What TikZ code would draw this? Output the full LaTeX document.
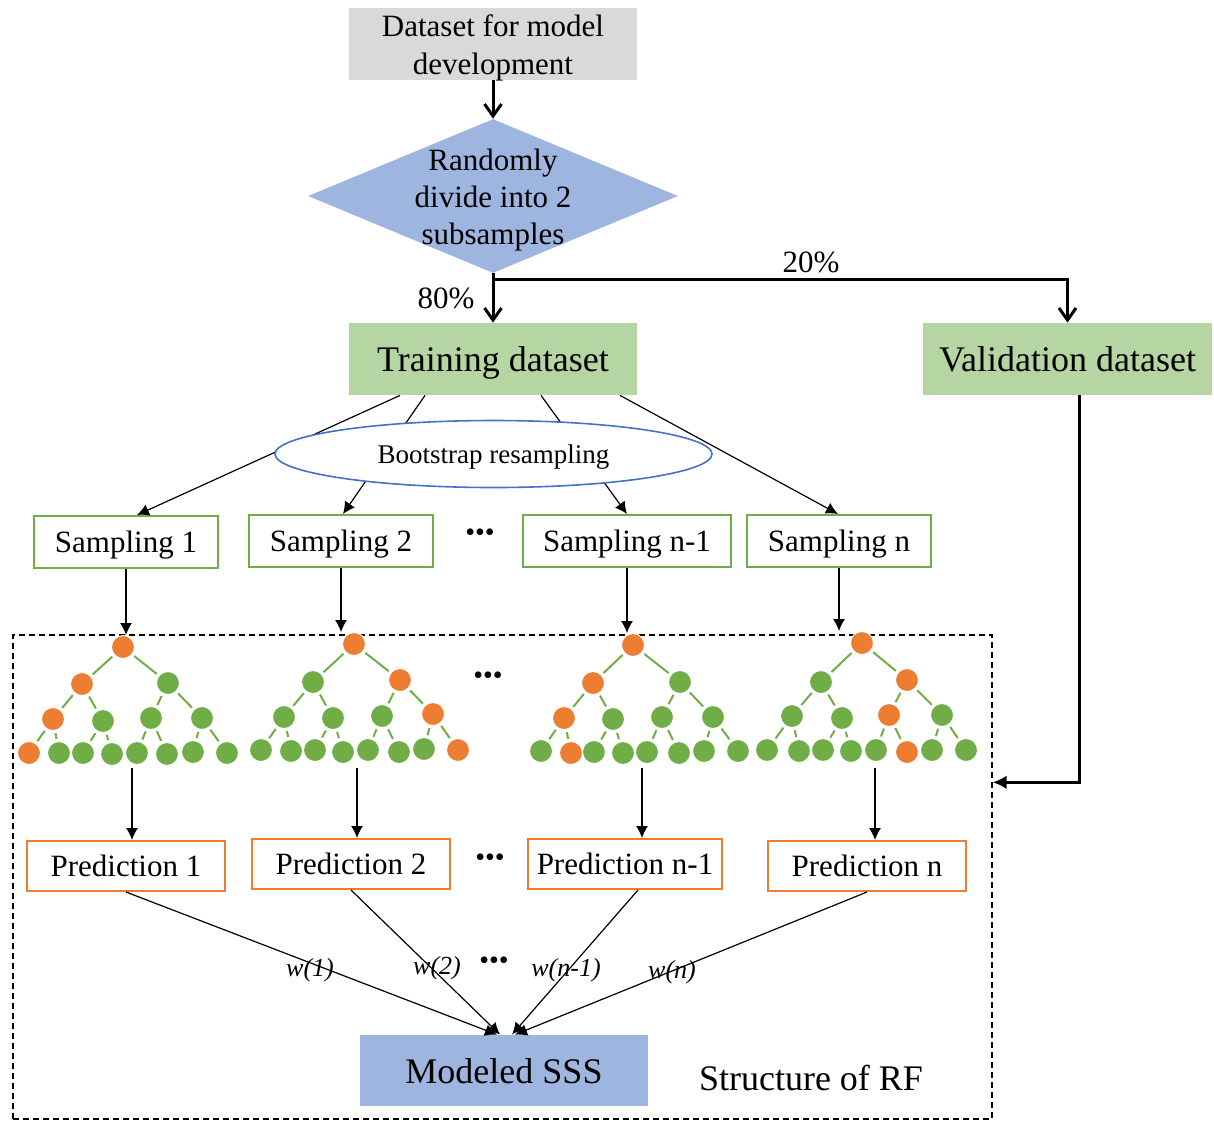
\documentclass[tikz,border=0pt]{standalone}
\usepackage{fontspec}
\setmainfont{Liberation Serif}
\usetikzlibrary{arrows.meta,calc,shapes.geometric}
\definecolor{grayf}{RGB}{217,217,217}
\definecolor{bluef}{RGB}{158,181,224}
\definecolor{greenf}{RGB}{181,214,163}
\definecolor{grn}{RGB}{112,173,71}
\definecolor{orng}{RGB}{237,125,49}
\definecolor{ellb}{RGB}{68,114,196}
\newcommand\rftree[2]{%
  \foreach \i/\x/\y/\c in {#2} {\node[tnode, fill=\c] (t#1n\i) at (\x,\y) {};}
  \foreach \i in {2,...,15} {\pgfmathtruncatemacro\myparent{\i/2}\draw[tedge] (t#1n\myparent) -- (t#1n\i);}
}
\begin{document}
\begin{tikzpicture}[x=0.5pt,y=-0.5pt,
  base/.style={font=\fontsize{15.5}{18.5}\selectfont},
  big/.style={font=\fontsize{18}{21}\selectfont},
  sbox/.style={draw=grn, line width=1pt, fill=white, minimum height=26pt, inner sep=0pt, text depth=0pt, base},
  pbox/.style={draw=orng, line width=1pt, fill=white, minimum height=25pt, inner sep=0pt, text depth=0pt, base},
  thickarr/.style={line width=1.5pt, -{Straight Barb[length=6pt,width=8.5pt]}},
  thinarr/.style={line width=0.6pt, -{Latex[length=6pt,width=6pt]}},
  tnode/.style={circle, minimum size=11.5pt, inner sep=0pt, draw=white, line width=0.5pt},
  tedge/.style={grn, line width=1pt, shorten <=1.2pt, shorten >=1.2pt},
  dotlab/.style={font=\fontsize{14}{14}\selectfont, inner sep=0pt},
  wlab/.style={font=\fontsize{13}{15}\selectfont\itshape, inner sep=0pt}
]
\useasboundingbox (0,0) rectangle (1214,1121);

% dashed RF frame
\node[draw, dash pattern=on 3pt off 2pt, line width=0.7pt, minimum width=489.5pt, minimum height=242pt, inner sep=0pt] (rf) at (502.5,877) {};

% top part
\node[fill=grayf, minimum width=144pt, minimum height=36pt, inner sep=0pt] (ds) at (493,44) {};
\node[align=center, font=\fontsize{15.5}{19}\selectfont, inner sep=0pt] (dst) at (493,48) {Dataset for model\\development};
\node[diamond, fill=bluef, minimum width=185pt, minimum height=77pt, inner sep=0pt] (dv) at (493,196) {};
\node[base, align=center, inner sep=0pt] (dvt) at (493,200) {Randomly\\divide into 2\\subsamples};
\node[fill=greenf, minimum width=144pt, minimum height=36pt, big, text depth=0pt, inner sep=0pt] (tr) at (493,359) {Training dataset};
\node[fill=greenf, minimum width=144.5pt, minimum height=36pt, big, text depth=0pt, inner sep=0pt] (va) at (1067.5,359) {Validation dataset};
\coordinate (split) at (493,279);

\draw[thickarr] (ds.south) -- (dv.north);
\draw[line width=1.5pt] (dv.south) -- (split);
\draw[thickarr] (split) -- (tr.north);
\draw[thickarr] (split) -| (va.north);
\node[base, inner sep=0pt] (p80) at (446,298) {80\%};
\node[base, inner sep=0pt] (p20) at (811,262) {20\%};

% sampling boxes
\node[sbox, minimum width=92pt] (s1) at (126,542) {Sampling 1};
\node[sbox, minimum width=92pt] (s2) at (341,541) {Sampling 2};
\node[sbox, minimum width=104pt] (s3) at (627,541) {Sampling n-1};
\node[sbox, minimum width=92pt] (s4) at (839,541) {Sampling n};
\node[dotlab] (d1) at (480,535) {•••};

\draw[thinarr] ($(tr.south)+(-93,0)$) -- ($(s1.north)+(11,0)$);
\draw[thinarr] ($(tr.south)+(-68,0)$) -- ($(s2.north)+(2,0)$);
\draw[thinarr] ($(tr.south)+(48,0)$) -- (s3.north);
\draw[thinarr] ($(tr.south)+(127,0)$) -- ($(s4.north)+(-1,0)$);
\node[ellipse, draw=ellb, line width=0.8pt, fill=white, minimum width=218.5pt, minimum height=33.5pt, inner sep=0pt, text depth=0pt, font=\fontsize{13.5}{16}\selectfont] (bs) at (493.5,454) {Bootstrap resampling};

% trees
\rftree{1}{1/123/647/orng, 2/82/684/orng, 3/168/683/grn, 4/53/719/orng, 5/103/721/grn, 6/151/718/grn, 7/202/718/grn, 8/29/753/orng, 9/59/753/grn, 10/83/753/grn, 11/112/754/grn, 12/137/753/grn, 13/167/754/grn, 14/193/752/grn, 15/227/753/grn}
\rftree{2}{1/354/644/orng, 2/313/682/grn, 3/400/680/orng, 4/284/717/grn, 5/333/718/grn, 6/382/716/grn, 7/433/714/orng, 8/261/750/grn, 9/291/751/grn, 10/315/750/grn, 11/343/752/grn, 12/368/750/grn, 13/399/752/grn, 14/424/749/grn, 15/458/750/orng}
\rftree{3}{1/633/645/orng, 2/593/683/orng, 3/680/682/grn, 4/564/718/orng, 5/613/719/grn, 6/662/717/grn, 7/713/717/grn, 8/541/751/grn, 9/571/753/orng, 10/594/752/grn, 11/623/753/grn, 12/647/752/grn, 13/679/753/grn, 14/704/751/grn, 15/738/751/grn}
\rftree{4}{1/862/643/orng, 2/821/682/grn, 3/907/680/orng, 4/792/716/grn, 5/842/718/grn, 6/889/715/orng, 7/942/715/grn, 8/767/750/grn, 9/799/751/grn, 10/823/750/grn, 11/851/751/grn, 12/876/750/grn, 13/907/752/orng, 14/932/750/grn, 15/966/750/grn}
\node[dotlab] (d2) at (488,678) {•••};

\draw[thinarr] (s1.south) -- (s1.south |- t1n1.north);
\draw[thinarr] (s2.south) -- (s2.south |- t2n1.north);
\draw[thinarr] (s3.south) -- (s3.south |- t3n1.north);
\draw[thinarr] (s4.south) -- (s4.south |- t4n1.north);

% predictions
\node[pbox, minimum width=99pt] (p1) at (126,866) {Prediction 1};
\node[pbox, minimum width=99pt] (p2) at (351,864) {Prediction 2};
\node[pbox, minimum width=97pt] (p3) at (625,864) {Prediction n-1};
\node[pbox, minimum width=99pt] (p4) at (867,866) {Prediction n};
\node[dotlab] (d3) at (490,860) {•••};

\coordinate (a1) at (132,768);
\coordinate (a2) at (357,768);
\coordinate (a3) at (642,768);
\coordinate (a4) at (875,768);
\draw[thinarr] (a1) -- (a1 |- p1.north);
\draw[thinarr] (a2) -- (a2 |- p2.north);
\draw[thinarr] (a3) -- (a3 |- p3.north);
\draw[thinarr] (a4) -- (a4 |- p4.north);

% modeled SSS
\node[fill=bluef, minimum width=144pt, minimum height=35.5pt, big, text depth=0pt, inner sep=0pt] (ms) at (504,1070.5) {Modeled SSS};
\draw[thinarr] (p1.south) -- ($(ms.north)+(-7,0)$);
\draw[thinarr] (p2.south) -- ($(ms.north)+(-4,0)$);
\draw[thinarr] ($(p3.south)+(13,0)$) -- ($(ms.north)+(8,0)$);
\draw[thinarr] (p4.south) -- ($(ms.north)+(11,0)$);
\node[wlab] (w1) at (310,970) {w(1)};
\node[wlab] (w2) at (437,968) {w(2)};
\node[dotlab] (d4) at (494,963) {•••};
\node[wlab] (w3) at (566,970) {w(n-1)};
\node[wlab] (w4) at (672,972) {w(n)};
\node[big, inner sep=0pt, text depth=0pt] (srf) at (811,1078) {Structure of RF};

% validation feed
\draw[line width=1.5pt, -{Latex[length=7pt,width=7pt]}] ($(va.south)+(11.5,0)$) |- ($(rf.north east)+(0,148)$);
\end{tikzpicture}
\end{document}
